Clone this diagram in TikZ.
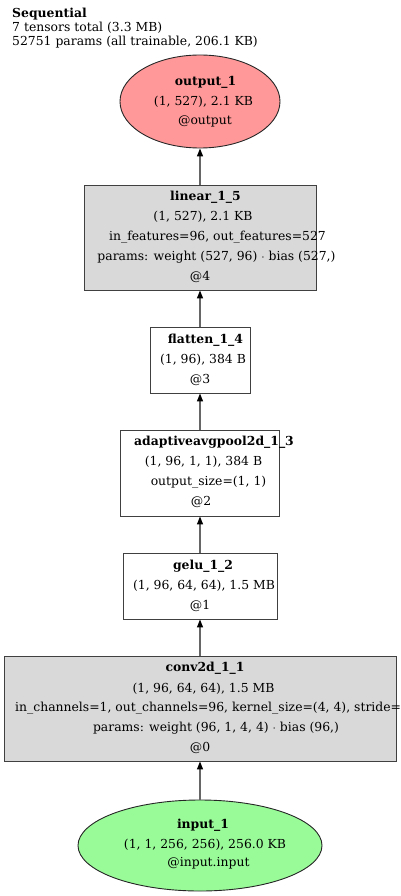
\documentclass[tikz,border=0pt]{standalone}
\usepackage{fontspec}
\setmainfont{DejaVu Serif}
\usetikzlibrary{shapes.geometric,arrows.meta}
\definecolor{outred}{RGB}{255,153,153}
\definecolor{ingreen}{RGB}{152,251,152}
\definecolor{boxgray}{RGB}{217,217,217}
\begin{document}
\begin{tikzpicture}[x=1pt,y=-1pt,
  every node/.style={font=\fontsize{12.4}{20}\selectfont, inner sep=0pt, text=black},
  box/.style={draw=black!75, line width=0.9pt, rectangle},
  gbox/.style={box, fill=boxgray},
  oval/.style={ellipse, draw=black!85, line width=0.9pt},
  title/.style={anchor=west, font=\fontsize{12.4}{14}\selectfont},
  edge/.style={draw=black!60, line width=1.3pt, -{Triangle[length=8pt,width=6pt,color=black,fill=black]}}
]
\useasboundingbox (0,0) rectangle (400,896);
\clip (0,0) rectangle (400,896);

\node[title] (t1) at (12,14) {\textbf{Sequential}};
\node[title] (t2) at (12,28) {7 tensors total (3.3 MB)};
\node[title] (t3) at (12,42) {52751 params (all trainable, 206.1 KB)};

% output
\node[oval, fill=outred, minimum width=160, minimum height=93] (output) at (200,101.5) {};
\node (o1) at (205.5,82) {\textbf{output\_1}};
\node (o2) at (203.5,102) {(1, 527), 2.1 KB};
\node (o3) at (205,121) {@output};

% linear
\node[gbox, minimum width=232, minimum height=105] (linear) at (200,237.5) {};
\node (l1) at (205.5,197) {\textbf{linear\_1\_5}};
\node (l2) at (203,217) {(1, 527), 2.1 KB};
\node (l3) at (217.5,237) {in\_features=96, out\_features=527};
\node (l4) at (216.5,257) {params: weight (527, 96) $\cdot$ bias (527,)};
\node (l5) at (200,277) {@4};

% flatten
\node[box, minimum width=100, minimum height=66] (flatten) at (200,360) {};
\node (f1) at (205.5,340) {\textbf{flatten\_1\_4}};
\node (f2) at (203,360) {(1, 96), 384 B};
\node (f3) at (200,380) {@3};

% adaptive pool
\node[box, minimum width=159, minimum height=86] (pool) at (200,473) {};
\node (p1) at (214,442) {\textbf{adaptiveavgpool2d\_1\_3}};
\node (p2) at (203.5,462) {(1, 96, 1, 1), 384 B};
\node (p3) at (208.5,482) {output\_size=(1, 1)};
\node (p4) at (201,502) {@2};

% gelu
\node[box, minimum width=154, minimum height=66] (gelu) at (200,586) {};
\node (g1) at (203,566) {\textbf{gelu\_1\_2}};
\node (g2) at (204,586) {(1, 96, 64, 64), 1.5 MB};
\node (g3) at (200,606) {@1};

% conv
\node[gbox, minimum width=392, minimum height=105] (conv) at (200,708.5) {};
\node (c1) at (205,668) {\textbf{conv2d\_1\_1}};
\node (c2) at (203.5,689) {(1, 96, 64, 64), 1.5 MB};
\node[anchor=west] (c3) at (15,708) {in\_channels=1, out\_channels=96, kernel\_size=(4, 4), stride=(4, 4)};
\node (c4) at (216,728) {params: weight (96, 1, 4, 4) $\cdot$ bias (96,)};
\node (c5) at (200,748) {@0};

% input
\node[oval, fill=ingreen, minimum width=244, minimum height=91] (input) at (200,845.5) {};
\node (i1) at (203,825) {\textbf{input\_1}};
\node (i2) at (205,845) {(1, 1, 256, 256), 256.0 KB};
\node (i3) at (208.5,863) {@input.input};

\draw[edge] (input.north) -- (conv.south);
\draw[edge] (conv.north) -- (gelu.south);
\draw[edge] (gelu.north) -- (pool.south);
\draw[edge] (pool.north) -- (flatten.south);
\draw[edge] (flatten.north) -- (linear.south);
\draw[edge] (linear.north) -- (output.south);
\end{tikzpicture}
\end{document}
